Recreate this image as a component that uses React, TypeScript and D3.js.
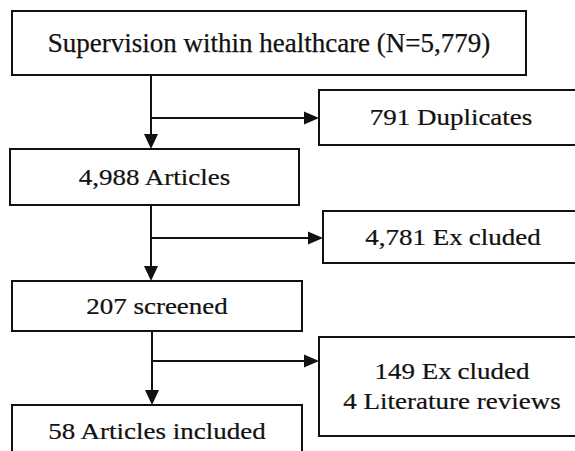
import { useEffect, useRef } from 'react';
import * as d3 from 'd3';

// flow steps, top to bottom
const mainSteps = [
  'Supervision within healthcare (N=5,779)',
  '4,988 Articles',
  '207 screened',
  '58 Articles included',
];

// what drops out after each step
const exclusions = [
  ['791 Duplicates'],
  ['4,781 Excluded'],
  ['149 Excluded', '4 Literature reviews'],
];

const W = 575;
const H = 451;

// box geometry (layout only)
const mainBoxes = [
  { x0: 12, x1: 526, y0: 11, y1: 75 },
  { x0: 10, x1: 299, y0: 149, y1: 205 },
  { x0: 12, x1: 302, y0: 281, y1: 331 },
  { x0: 12, x1: 302, y0: 405, y1: 475 },
];
const sideBoxes = [
  { x0: 319, x1: 583, y0: 90, y1: 145 },
  { x0: 323, x1: 583, y0: 211, y1: 263 },
  { x0: 319, x1: 585, y0: 337, y1: 436 },
];
const trunkX = [151, 151, 152];
const branchY = [118, 238, 361];

export default function App() {
  const svgRef = useRef<SVGSVGElement>(null);

  useEffect(() => {
    if (!svgRef.current) return;
    const svg = d3.select(svgRef.current);
    svg.selectAll('*').remove();

    svg.append('rect').attr('width', W).attr('height', H).attr('fill', '#fff');

    const ink = '#111';
    const font = "'Liberation Serif', 'Times New Roman', serif";
    const line = d3.line<[number, number]>();

    // text in the source is a bit squat: wide like 27px Times, short like 23px
    const label = (x: number, y: number, text: string, squash: number) => {
      const t = svg.append('text')
        .attr('transform', `translate(${x},${y}) scale(1,${squash})`)
        .attr('text-anchor', 'middle')
        .attr('font-family', font)
        .attr('font-size', 27)
        .attr('fill', ink)
        .attr('stroke', ink)
        .attr('stroke-width', 0.25);
      // "Excluded" is drawn with a visible gap after "Ex"
      const m = text.match(/^(.*Ex)(cluded.*)$/);
      if (m) {
        t.append('tspan').text(m[1]);
        t.append('tspan').attr('dx', 6).text(m[2]);
      } else {
        t.text(text);
      }
    };

    const box = (b: { x0: number; x1: number; y0: number; y1: number }) =>
      svg.append('rect')
        .attr('x', b.x0).attr('y', b.y0)
        .attr('width', b.x1 - b.x0).attr('height', b.y1 - b.y0)
        .attr('fill', '#fff').attr('stroke', ink).attr('stroke-width', 2);

    // main boxes
    mainSteps.forEach((text, i) => {
      const b = mainBoxes[i];
      box(b);
      const cy = i === mainSteps.length - 1 ? b.y0 + 26 : (b.y0 + b.y1) / 2;
      label((b.x0 + b.x1) / 2, cy + (i === 0 ? 9 : 7.5), text, i === 0 ? 1 : 0.85);
    });

    // side boxes
    exclusions.forEach((lines, i) => {
      const b = sideBoxes[i];
      box(b);
      const cy = (b.y0 + b.y1) / 2;
      lines.forEach((text, j) => {
        label((b.x0 + b.x1) / 2, cy + 7.5 + (j - (lines.length - 1) / 2) * 30, text, 0.85);
      });
    });

    // connectors
    exclusions.forEach((_, i) => {
      const x = trunkX[i];
      const from = mainBoxes[i].y1;
      const to = mainBoxes[i + 1].y0;
      const y = branchY[i];
      const side = sideBoxes[i].x0;

      svg.append('path')
        .attr('d', line([[x, from], [x, to - 14]]))
        .attr('stroke', ink).attr('stroke-width', 2).attr('fill', 'none');
      svg.append('path')
        .attr('d', line([[x - 7, to - 15], [x + 7, to - 15], [x, to]]) + 'Z')
        .attr('fill', ink);

      svg.append('path')
        .attr('d', line([[x, y], [side - 14, y]]))
        .attr('stroke', ink).attr('stroke-width', 2).attr('fill', 'none');
      svg.append('path')
        .attr('d', line([[side - 15, y - 6.5], [side - 15, y + 6.5], [side, y]]) + 'Z')
        .attr('fill', ink);
    });
  }, []);

  return (
    <svg
      ref={svgRef}
      width={W}
      height={H}
      style={{ position: 'absolute', left: 0, top: 0, display: 'block' }}
    />
  );
}
